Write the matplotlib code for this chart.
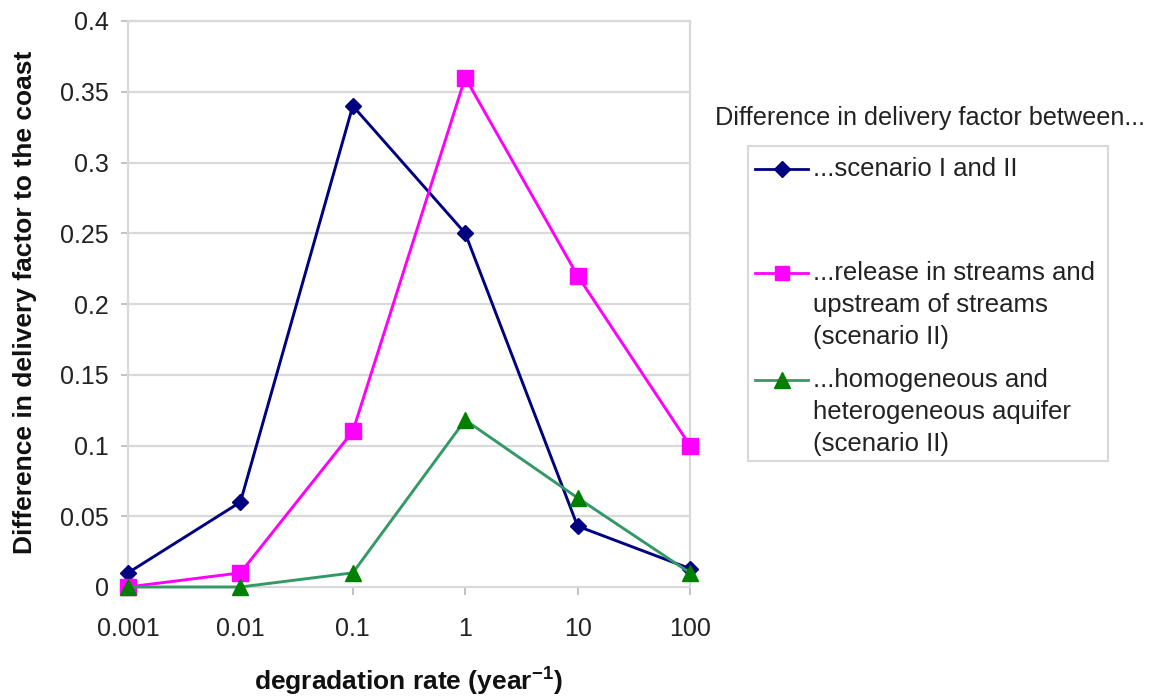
import matplotlib
matplotlib.use("Agg")
import matplotlib.pyplot as plt
from matplotlib.lines import Line2D
from matplotlib.patches import Rectangle

plt.rcParams['font.family'] = ['Liberation Sans', 'DejaVu Sans']
plt.rcParams['mathtext.fontset'] = 'custom'
plt.rcParams['mathtext.rm'] = 'Liberation Sans'
plt.rcParams['mathtext.bf'] = 'Liberation Sans:bold'

# ---- data ----
rates = [0.001, 0.01, 0.1, 1, 10, 100]
rate_labels = ['0.001', '0.01', '0.1', '1', '10', '100']
scen_I_II = [0.01, 0.06, 0.34, 0.25, 0.043, 0.013]
release_streams = [0.0, 0.01, 0.11, 0.36, 0.22, 0.10]
homog_heterog = [0.0, 0.0, 0.01, 0.118, 0.063, 0.01]
y_ticks = [0, 0.05, 0.1, 0.15, 0.2, 0.25, 0.3, 0.35, 0.4]
y_tick_labels = ['0', '0.05', '0.1', '0.15', '0.2', '0.25', '0.3', '0.35', '0.4']
series_labels = ['...scenario I and II',
                 '...release in streams and\nupstream of streams\n(scenario II)',
                 '...homogeneous and\nheterogeneous aquifer\n(scenario II)']
legend_title = 'Difference in delivery factor between...'

W, H = 1151, 697
fig = plt.figure(figsize=(W / 100, H / 100), dpi=100)
fx = lambda px: px / W
fy = lambda py: 1 - py / H

ax = fig.add_axes([fx(128), fy(587), fx(690) - fx(128), fy(21) - fy(587)])
ax.set_xscale('log')
ax.set_xlim(0.001, 100)
ax.set_ylim(0, 0.4)

grid_col = '#d9d9d9'
for y in y_ticks[1:]:
    ax.axhline(y, color=grid_col, lw=1.6, zorder=0)

navy = '#000080'
mag = '#ff00ff'
green_line = '#339966'
green_mk = '#008000'

ax.plot(rates, scen_I_II, color=navy, lw=2.1, marker='D', ms=8.5,
        mfc=navy, mec=navy, clip_on=False, zorder=3)
ax.plot(rates, release_streams, color=mag, lw=2.1, marker='s', ms=11,
        mfc=mag, mec=mag, clip_on=False, zorder=3)
ax.plot(rates, homog_heterog, color=green_line, lw=2.1, marker='^', ms=12,
        mfc=green_mk, mec=green_mk, clip_on=False, zorder=4)

ax.set_xticks(rates)
ax.set_xticklabels(rate_labels)
ax.xaxis.set_minor_locator(matplotlib.ticker.NullLocator())
ax.set_yticks(y_ticks)
ax.set_yticklabels(y_tick_labels)
ax.tick_params(axis='both', colors='#b8b8b8', labelcolor='#222222',
               labelsize=18, width=1.2)
ax.tick_params(axis='x', length=5.8, pad=16)
ax.tick_params(axis='y', length=5, pad=9)
for s in ax.spines.values():
    s.set_color(grid_col)
    s.set_linewidth(1.6)

ax.set_ylabel('Difference in delivery factor to the coast', fontsize=19,
              fontweight='bold', color='#111111')
ax.yaxis.set_label_coords((37 - 128) / 562, (587 - 302) / 566)
ax.set_xlabel(r'degradation rate (year$^{\mathbf{-1}}$)', fontsize=19,
              fontweight='bold', color='#111111')
ax.xaxis.set_label_coords((408 - 128) / 562, (587 - 664) / 566)

# ---- legend (manual, Excel-like layout) ----
fig.text(fx(715), fy(118), legend_title, fontsize=18.2, color='#222222',
         va='center', ha='left')
fig.add_artist(Rectangle((fx(748), fy(461)), fx(1108) - fx(748), fy(146) - fy(461),
                         transform=fig.transFigure, fill=False,
                         edgecolor='#d9d9d9', lw=1.5))
entry_y = [169, 273, 380]
styles = [(navy, navy, 'D', 8), (mag, mag, 's', 10), (green_line, green_mk, '^', 11)]
for (lc, mc, mk, ms), lab, yy in zip(styles, series_labels, entry_y):
    fig.add_artist(Line2D([fx(755), fx(808)], [fy(yy), fy(yy)], color=lc, lw=2,
                          transform=fig.transFigure))
    fig.add_artist(Line2D([fx(781.5)], [fy(yy)], marker=mk, ms=ms, color=mc,
                          mfc=mc, mec=mc, transform=fig.transFigure))
    fig.text(fx(813), fy(yy - 12), lab, fontsize=18.5, color='#222222',
             va='top', ha='left', linespacing=1.42)

fig.savefig('out.png', dpi=100)
